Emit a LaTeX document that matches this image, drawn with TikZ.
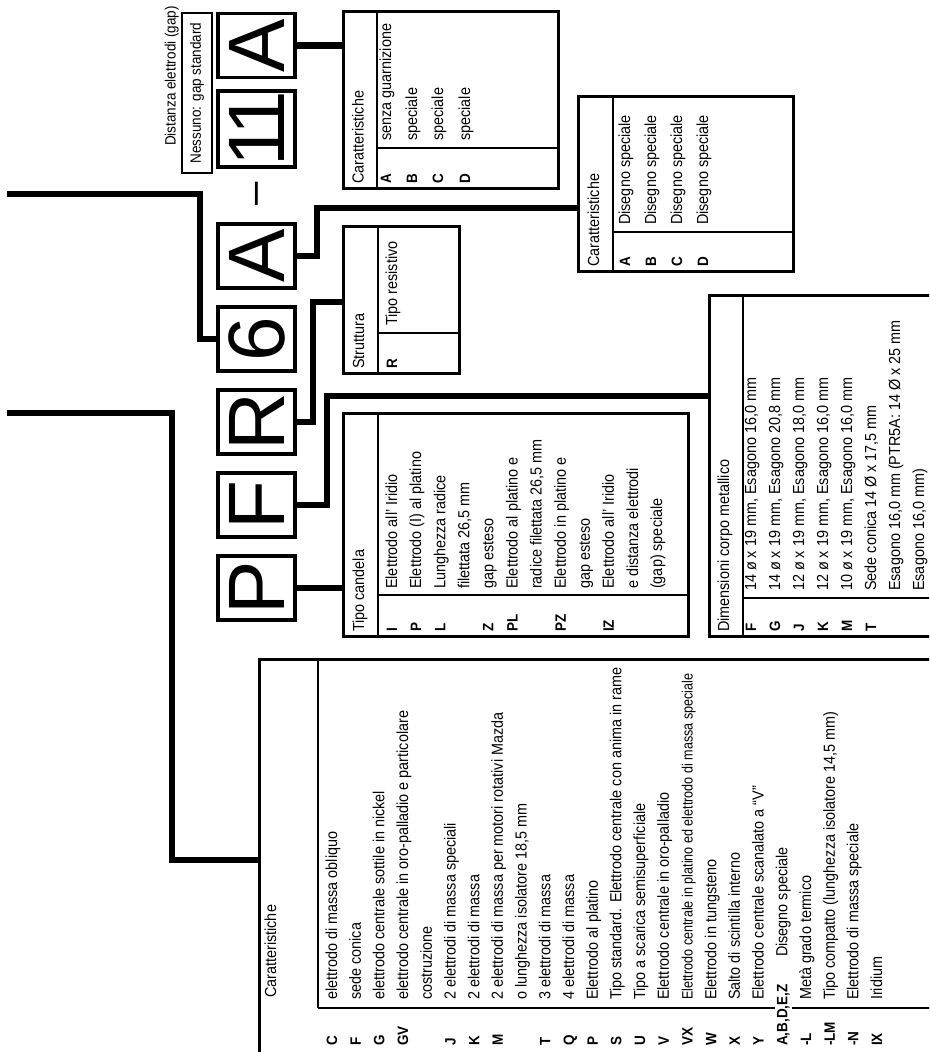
\documentclass[tikz,border=0pt]{standalone}
\usepackage{fontspec}
\setmainfont{Liberation Sans}[FakeStretch=0.9]
\newfontfamily\narrowfont{Liberation Sans}[FakeStretch=0.84]
\newfontfamily\bigfont{Liberation Sans}

\tikzset{
  letterbox/.style={draw, line width=3.2pt, minimum width=64pt, minimum height=77pt, inner sep=0pt, font=\bigfont\fontsize{80}{80}\selectfont},
  conn/.style={line width=6.8pt},
  tabframe/.style={draw, line width=3.4pt, inner sep=0pt, anchor=north west},
  tline/.style={line width=2.6pt},
  thead/.style={anchor=west, inner sep=0pt, text height=11.5pt, text depth=3.4pt, font=\fontsize{16}{16}\selectfont},
  tcode/.style={thead, font=\bfseries\fontsize{15}{15}\selectfont},
  tdesc/.style={thead},
  tnarrow/.style={thead, font=\narrowfont\fontsize{15}{15}\selectfont}
}

\begin{document}
\begin{tikzpicture}[x=1pt,y=1pt]
\useasboundingbox (0,-1052) rectangle (929,0);
\clip (0,-1052) rectangle (929,0);
\begin{scope}[shift={(929,-1052)}, rotate=90, transform shape]

\node [letterbox] (P) at (464,672.5) {P};
\node [letterbox] (F) at (547,672.5) {F};
\node [letterbox] (R) at (630,672.5) {R};
\node [letterbox] (six) at (713,672.5) {6};
\node [letterbox] (A1) at (796,672.5) {A};
\node [inner sep=0pt, text height=0pt, text depth=0pt, font=\bigfont\fontsize{42}{42}\selectfont] (dash) at (858,661.5) {–};
\node [letterbox, minimum width=68pt] (eleven) at (923,672.5) {1\kern-13pt 1};
\node [letterbox] (A2) at (1006.5,672.5) {A};

\node [draw, line width=2.3pt, minimum width=160pt, minimum height=30pt, inner sep=0pt, font=\fontsize{15}{15}\selectfont] (gap) at (959,732) {Nessuno: gap standard};
\node [anchor=south east, inner sep=0pt, font=\fontsize{15}{15}\selectfont] (gaplbl) at (1046,750) {Distanza elettrodi (gap)};

\node [tabframe, minimum width=177pt, minimum height=215pt] (capA) at (862,587) {};
\node [tabframe, minimum width=175pt, minimum height=215pt] (capB) at (779,352) {};
\node [tabframe, minimum width=147pt, minimum height=116pt] (strut) at (677,587) {};
\node [tabframe, minimum width=223pt, minimum height=345pt] (tipo) at (414,587) {};
\node [tabframe, minimum width=341pt, minimum height=270pt] (dim) at (414,221) {};
\node [tabframe, minimum width=411pt, minimum height=720pt] (big) at (-20,671) {};

\draw [tline] (862,552) -- (1039,552);
\draw [tline] (904,552) -- (904,372);
\draw [tline] (779,316) -- (954,316);
\draw [tline] (820,316) -- (820,137);
\draw [tline] (677,551) -- (824,551);
\draw [tline] (719,551) -- (719,471);
\draw [tline] (414,551) -- (637,551);
\draw [tline] (457,551) -- (457,242);
\draw [tline] (414,186) -- (755,186);
\draw [tline] (454,186) -- (454,-60);
\draw [tline] (44,611) -- (391,611);
\draw [tline] (44,611) -- (44,-60);

\coordinate (heat) at (858,922);
\coordinate (feat) at (639,922);
\draw [conn] (P.south) -- (P |- tipo.north);
\draw [conn] (F.south) |- (656,602) -- (656,0 |- dim.north);
\draw [conn] (R.south) |- (750,616) -- (750,0 |- strut.north);
\draw [conn] (heat) -- (858,729) -| (six.north);
\draw [conn] (feat) -- (639,757) -| (192,0 |- big.north);
\draw [conn] (A1.south) |- (844,612) -- (844,0 |- capB.north);
\draw [conn] (A2.south) -- (A2 |- capA.north);

\node [thead] (capA-h) at (868,569.5) {Caratteristiche};
\node [tcode] (capA-ca) at (868,542) {A};
\node [tdesc] (capA-da) at (911,542) {senza guarnizione};
\node [tcode] (capA-cb) at (868,516) {B};
\node [tdesc] (capA-db) at (911,516) {speciale};
\node [tcode] (capA-cc) at (868,490) {C};
\node [tdesc] (capA-dc) at (911,490) {speciale};
\node [tcode] (capA-cd) at (868,463) {D};
\node [tdesc] (capA-dd) at (911,463) {speciale};

\node [thead] (capB-h) at (785,334) {Caratteristiche};
\node [tcode] (capB-ca) at (785,303) {A};
\node [tdesc] (capB-da) at (827,303) {Disegno speciale};
\node [tcode] (capB-cb) at (785,277) {B};
\node [tdesc] (capB-db) at (827,277) {Disegno speciale};
\node [tcode] (capB-cc) at (785,251) {C};
\node [tdesc] (capB-dc) at (827,251) {Disegno speciale};
\node [tcode] (capB-cd) at (785,225) {D};
\node [tdesc] (capB-dd) at (827,225) {Disegno speciale};

\node [thead] (strut-h) at (683,569) {Struttura};
\node [tcode] (strut-cr) at (683,536) {R};
\node [tdesc] (strut-dr) at (726,536) {Tipo resistivo};

\node [thead] (tipo-h) at (420,569) {Tipo candela};
\node [tcode] (tipo-ci) at (420,536) {I};
\node [tdesc] (tipo-d1) at (463,536) {Elettrodo all’ Iridio};
\node [tcode] (tipo-cp) at (420,511.9) {P};
\node [tdesc] (tipo-d2) at (463,511.9) {Elettrodo (I) al platino};
\node [tcode] (tipo-cl) at (420,487.8) {L};
\node [tdesc] (tipo-d3) at (463,487.8) {Lunghezza radice};
\node [tdesc] (tipo-d4) at (463,463.7) {filettata 26,5 mm};
\node [tcode] (tipo-cz) at (420,439.6) {Z};
\node [tdesc] (tipo-d5) at (463,439.6) {gap esteso};
\node [tcode] (tipo-cpl) at (420,415.5) {PL};
\node [tdesc] (tipo-d6) at (463,415.5) {Elettrodo al platino e};
\node [tdesc] (tipo-d7) at (463,391.4) {radice filettata 26,5 mm};
\node [tcode] (tipo-cpz) at (420,367.3) {PZ};
\node [tdesc] (tipo-d8) at (463,367.3) {Elettrodo in platino e};
\node [tdesc] (tipo-d9) at (463,343.2) {gap esteso};
\node [tcode] (tipo-ciz) at (420,319.1) {IZ};
\node [tdesc] (tipo-d10) at (463,319.1) {Elettrodo all’ Iridio};
\node [tdesc] (tipo-d11) at (463,295) {e distanza elettrodi};
\node [tdesc] (tipo-d12) at (463,270.9) {(gap) speciale};

\node [thead] (dim-h) at (420,204) {Dimensioni corpo metallico};
\node [tcode] (dim-cf) at (420,177) {F};
\node [tdesc] (dim-d1) at (461,177) {14 ø x 19 mm, Esagono 16,0 mm};
\node [tcode] (dim-cg) at (420,153) {G};
\node [tdesc] (dim-d2) at (461,153) {14 ø x 19 mm, Esagono 20,8 mm};
\node [tcode] (dim-cj) at (420,129) {J};
\node [tdesc] (dim-d3) at (461,129) {12 ø x 19 mm, Esagono 18,0 mm};
\node [tcode] (dim-ck) at (420,105) {K};
\node [tdesc] (dim-d4) at (461,105) {12 ø x 19 mm, Esagono 16,0 mm};
\node [tcode] (dim-cm) at (420,81) {M};
\node [tdesc] (dim-d5) at (461,81) {10 ø x 19 mm, Esagono 16,0 mm};
\node [tcode] (dim-ct) at (420,57) {T};
\node [tdesc] (dim-d6) at (461,57) {Sede conica 14 Ø x 17,5 mm};
\node [tdesc] (dim-d7) at (461,33) {Esagono 16,0 mm (PTR5A: 14 Ø x 25 mm};
\node [tdesc] (dim-d8) at (461,9) {Esagono 16,0 mm)};

\node [thead] (big-h) at (54,657) {Caratteristiche};
\node [tcode] (big-c1) at (6,596) {C};
\node [tdesc] (big-d1) at (52,596) {elettrodo di massa obliquo};
\node [tcode] (big-c2) at (6,572.3) {F};
\node [tdesc] (big-d2) at (52,572.3) {sede conica};
\node [tcode] (big-c3) at (6,548.6) {G};
\node [tdesc] (big-d3) at (52,548.6) {elettrodo centrale sottile in nickel};
\node [tcode] (big-c4) at (6,524.9) {GV};
\node [tdesc] (big-d4) at (52,524.9) {elettrodo centrale in oro-palladio e particolare};
\node [tdesc] (big-d5) at (52,501.2) {costruzione};
\node [tcode] (big-c6) at (6,477.5) {J};
\node [tdesc] (big-d6) at (52,477.5) {2 elettrodi di massa speciali};
\node [tcode] (big-c7) at (6,453.8) {K};
\node [tdesc] (big-d7) at (52,453.8) {2 elettrodi di massa};
\node [tcode] (big-c8) at (6,430.1) {M};
\node [tdesc] (big-d8) at (52,430.1) {2 elettrodi di massa per motori rotativi Mazda};
\node [tdesc] (big-d9) at (52,406.4) {o lunghezza isolatore 18,5 mm};
\node [tcode] (big-c10) at (6,382.7) {T};
\node [tdesc] (big-d10) at (52,382.7) {3 elettrodi di massa};
\node [tcode] (big-c11) at (6,359) {Q};
\node [tdesc] (big-d11) at (52,359) {4 elettrodi di massa};
\node [tcode] (big-c12) at (6,335.3) {P};
\node [tdesc] (big-d12) at (52,335.3) {Elettrodo al platino};
\node [tcode] (big-c13) at (6,311.6) {S};
\node [tdesc] (big-d13) at (52,311.6) {Tipo standard. Elettrodo centrale con anima in rame};
\node [tcode] (big-c14) at (6,287.9) {U};
\node [tdesc] (big-d14) at (52,287.9) {Tipo a scarica semisuperficiale};
\node [tcode] (big-c15) at (6,264.2) {V};
\node [tdesc] (big-d15) at (52,264.2) {Elettrodo centrale in oro-palladio};
\node [tcode] (big-c16) at (6,240.5) {VX};
\node [tnarrow] (big-d16) at (52,240.5) {Elettrodo centrale in platino ed elettrodo di massa speciale};
\node [tcode] (big-c17) at (6,216.8) {W};
\node [tdesc] (big-d17) at (52,216.8) {Elettrodo in tungsteno};
\node [tcode] (big-c18) at (6,193.1) {X};
\node [tdesc] (big-d18) at (52,193.1) {Salto di scintilla interno};
\node [tcode] (big-c19) at (6,169.4) {Y};
\node [tdesc] (big-d19) at (52,169.4) {Elettrodo centrale scanalato a “V”};
\node [tcode, fill=white, inner ysep=1pt] (big-c20) at (6,145.7) {A,B,D,E,Z};
\node [tdesc] (big-d20) at (95,145.7) {Disegno speciale};
\node [tcode] (big-c21) at (6,122) {-L};
\node [tdesc] (big-d21) at (52,122) {Metà grado termico};
\node [tcode] (big-c22) at (6,98.3) {-LM};
\node [tdesc] (big-d22) at (52,98.3) {Tipo compatto (lunghezza isolatore 14,5 mm)};
\node [tcode] (big-c23) at (6,74.6) {-N};
\node [tdesc] (big-d23) at (52,74.6) {Elettrodo di massa speciale};
\node [tcode] (big-c24) at (6,50.9) {IX};
\node [tdesc] (big-d24) at (52,50.9) {Iridium};

\end{scope}
\end{tikzpicture}
\end{document}
